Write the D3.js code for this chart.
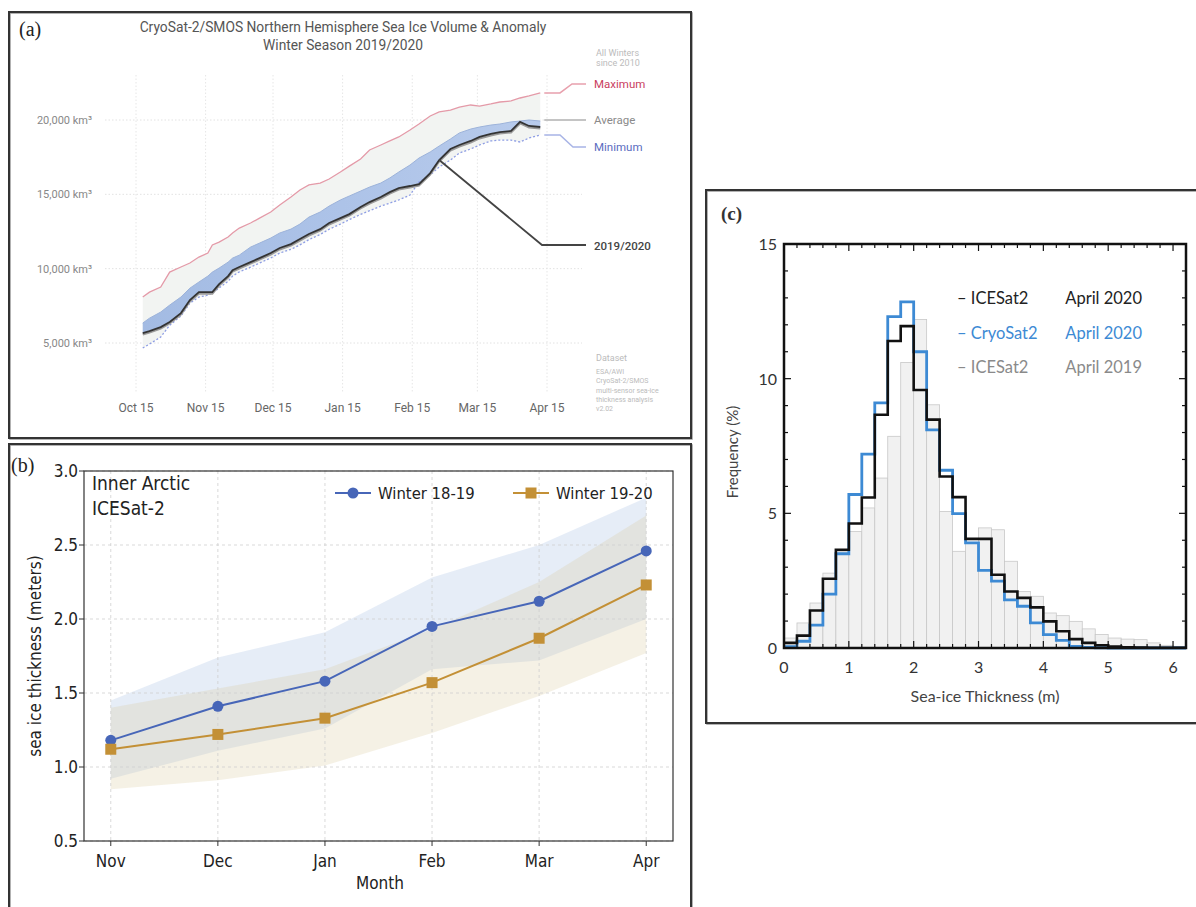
<!DOCTYPE html>
<html><head><meta charset="utf-8">
<script src="https://cdn.jsdelivr.net/npm/d3@7"></script>
<style>body{margin:0;background:#fff;} svg{display:block;}</style>
</head><body>
<svg id="c" width="1196" height="907"></svg>
<script>
// ================= Panel (a) data =================
const aDates = ["2019-10-18","2019-10-21","2019-10-26","2019-10-30","2019-11-04","2019-11-08","2019-11-12","2019-11-16","2019-11-18","2019-11-21","2019-11-25","2019-11-27","2019-11-30","2019-12-05","2019-12-09","2019-12-14","2019-12-18","2019-12-23","2019-12-27","2019-12-31","2020-01-05","2020-01-09","2020-01-14","2020-01-18","2020-01-23","2020-01-27","2020-02-01","2020-02-05","2020-02-09","2020-02-14","2020-02-18","2020-02-23","2020-02-27","2020-03-03","2020-03-07","2020-03-12","2020-03-16","2020-03-21","2020-03-25","2020-03-30","2020-04-03","2020-04-07","2020-04-12"];
const aMax = [8090,8420,8760,9770,10110,10380,10780,11050,11590,11790,12130,12400,12730,13070,13400,13810,14280,14820,15290,15630,15760,16030,16500,16900,17380,17980,18320,18590,18860,19330,19730,20270,20540,20670,20870,21010,20940,21080,21210,21280,21480,21620,21820];
const aAvg = [6340,6670,7080,7550,8090,8690,9100,9500,9770,10040,10440,10710,10910,11450,11720,12060,12400,12660,13000,13470,13810,14210,14620,14890,15220,15490,15760,16100,16500,16970,17440,17850,18250,18720,19130,19390,19530,19660,19730,19870,19930,20000,19930];
const aCur = [5670,5800,6070,6410,7010,7890,8420,8420,8420,8960,9500,9900,10110,10440,10710,11050,11390,11650,11990,12330,12660,13070,13400,13670,14150,14480,14820,15150,15420,15560,15690,16430,17310,18050,18320,18590,18860,19060,19190,19260,19870,19600,19530];
const aMin = [4660,4930,5400,6200,6810,7680,8090,8220,8360,8700,9150,9500,9780,10100,10380,10720,11050,11300,11600,11950,12300,12650,13000,13300,13650,13900,14210,14410,14620,14950,15830,16300,16840,17310,17780,18050,18320,18590,18650,18650,18520,18790,18990];
const aYTicks = [5000,10000,15000,20000];
const aXTicks = ["2019-10-15","2019-11-15","2019-12-15","2020-01-15","2020-02-15","2020-03-15","2020-04-15"];
const aXTickLabels = ["Oct 15","Nov 15","Dec 15","Jan 15","Feb 15","Mar 15","Apr 15"];
const aTitle = ["CryoSat-2/SMOS Northern Hemisphere Sea Ice Volume & Anomaly","Winter Season 2019/2020"];
const aLeaderDate = "2020-02-27";

// ================= Panel (b) data =================
const bMonths = ["Nov","Dec","Jan","Feb","Mar","Apr"];
const b1819 = [1.18,1.41,1.58,1.95,2.12,2.46];
const b1819Lo = [0.92,1.11,1.26,1.66,1.72,2.00];
const b1819Hi = [1.45,1.74,1.91,2.28,2.50,2.82];
const b1920 = [1.12,1.22,1.33,1.57,1.87,2.23];
const b1920Lo = [0.85,0.91,1.01,1.23,1.48,1.77];
const b1920Hi = [1.40,1.53,1.66,1.93,2.25,2.70];
const bYTicks = [0.5,1.0,1.5,2.0,2.5,3.0];
const bSeriesNames = ["Winter 18-19","Winter 19-20"];

// ================= Panel (c) data =================
const cBinWidth = 0.2;
const cIce2020 = [0.19,0.46,1.39,2.57,3.65,4.62,5.59,8.66,11.4,11.95,9.58,8.48,6.37,5.6,4.05,4.05,2.72,2.10,1.86,1.51,0.99,0.62,0.33,0.19,0.10,0.05,0.03,0.02,0.01,0.01,0.01];
const cCryo2020 = [0.05,0.25,0.85,2.0,3.5,5.7,7.2,9.1,12.3,12.85,11.0,8.1,6.6,4.99,3.9,2.88,2.48,1.79,1.55,0.93,0.50,0.28,0.06,0.02,0.01,0,0,0,0,0,0];
const cIce2019 = [0.37,0.93,1.67,2.78,3.59,4.33,5.2,6.31,7.86,10.6,12.2,9.03,5.07,3.59,3.9,4.46,4.39,3.22,2.10,1.92,1.30,1.20,0.99,0.71,0.50,0.37,0.33,0.31,0.19,0.10,0.06];
const cXTicks = [0,1,2,3,4,5,6];
const cYTicks = [0,5,10,15];
const cLegend = [["ICESat2","April 2020"],["CryoSat2","April 2020"],["ICESat2","April 2019"]];

// =================================================
const svg = d3.select("#c");
const parse = d3.timeParse("%Y-%m-%d");

// ---------- Frames ----------
function frame(x,y,w,h){
  svg.append("rect").attr("x",x+1).attr("y",y+1).attr("width",w).attr("height",h)
    .attr("fill","none").attr("stroke","#999").attr("stroke-width",1.5);
  svg.append("rect").attr("x",x).attr("y",y).attr("width",w).attr("height",h)
    .attr("fill","none").attr("stroke","#333").attr("stroke-width",2);
}
frame(9,12,682,426);
frame(9,444,682,480);
frame(706,190,500,533);

// =============== Panel (a) ===============
{
  const g = svg.append("g");
  const ax = d3.scaleTime().domain([parse("2019-10-15"), parse("2020-04-15")]).range([136,547]);
  const ay = d3.scaleLinear().domain([5000,20000]).range([343,120]);
  const font = "Roboto, 'Open Sans', sans-serif";
  const rows = aDates.map((d,i)=>({d:parse(d),max:aMax[i],avg:aAvg[i],cur:aCur[i],min:aMin[i]}));

  // grid
  g.selectAll(".hg").data(aYTicks).join("line")
    .attr("x1",105).attr("x2",582).attr("y1",d=>ay(d)).attr("y2",d=>ay(d))
    .attr("stroke","#e2e2e2").attr("stroke-dasharray","1.5,2");
  g.selectAll(".vg").data(aXTicks).join("line")
    .attr("x1",d=>ax(parse(d))).attr("x2",d=>ax(parse(d))).attr("y1",75).attr("y2",392)
    .attr("stroke","#e6e6e6").attr("stroke-dasharray","1.5,2");

  // range band
  g.append("path").datum(rows)
    .attr("d",d3.area().x(r=>ax(r.d)).y0(r=>ay(r.min)).y1(r=>ay(r.max)))
    .attr("fill","#f2f4f2");
  // anomaly band
  const grad = svg.append("defs").append("linearGradient").attr("id","blueg")
    .attr("x1","0").attr("y1","0").attr("x2","1").attr("y2","0");
  grad.append("stop").attr("offset","0").attr("stop-color","#a3bbe3");
  grad.append("stop").attr("offset","0.5").attr("stop-color","#adc3e8");
  grad.append("stop").attr("offset","1").attr("stop-color","#b8cbec");
  g.append("path").datum(rows)
    .attr("d",d3.area().x(r=>ax(r.d)).y0(r=>ay(r.cur)).y1(r=>ay(r.avg)))
    .attr("fill","url(#blueg)");
  // lines
  const ln = k => d3.line().x(r=>ax(r.d)).y(r=>ay(r[k]));
  g.append("path").datum(rows).attr("d",ln("avg")).attr("fill","none").attr("stroke","#9db3da").attr("stroke-width",1);
  g.append("path").datum(rows).attr("d",ln("max")).attr("fill","none").attr("stroke","#e49aa8").attr("stroke-width",1.3);
  g.append("path").datum(rows).attr("d",ln("min")).attr("fill","none").attr("stroke","#8d9de4").attr("stroke-width",1.3).attr("stroke-dasharray","2,2");
  g.append("path").datum(rows).attr("d",ln("cur")).attr("fill","none").attr("stroke","#9a9a9a").attr("stroke-width",2).attr("transform","translate(0,1.5)");
  g.append("path").datum(rows).attr("d",ln("cur")).attr("fill","none").attr("stroke","#333").attr("stroke-width",1.8);

  // y labels
  g.selectAll(".yl").data(aYTicks).join("text")
    .attr("x",92).attr("y",d=>ay(d)+4).attr("text-anchor","end")
    .attr("font-family",font).attr("font-size",11).attr("fill","#888")
    .text(d=>d3.format(",")(d)+" km³");
  // x labels
  g.selectAll(".xl").data(aXTicks).join("text")
    .attr("x",d=>ax(parse(d))).attr("y",412).attr("text-anchor","middle")
    .attr("font-family",font).attr("font-size",12).attr("fill","#666")
    .text((d,i)=>aXTickLabels[i]);
  // title
  g.selectAll(".tt").data(aTitle).join("text")
    .attr("x",343).attr("y",(d,i)=>32+i*18).attr("text-anchor","middle")
    .attr("font-family",font).attr("font-size",13.8).attr("fill","#555")
    .text(d=>d);
  g.append("text").attr("x",19).attr("y",36).attr("font-family","'Liberation Serif', serif")
    .attr("font-size",20).attr("fill","#222").text("(a)");

  // right legend
  const last = rows[rows.length-1];
  const xe = ax(last.d)+4;
  g.append("path").attr("d",`M${xe},${ay(last.max)}H560L572,84H586`).attr("fill","none").attr("stroke","#e8a0ad").attr("stroke-width",1.5);
  g.append("path").attr("d",`M${xe},${ay(20000)}H586`).attr("fill","none").attr("stroke","#c4c4c4").attr("stroke-width",2);
  g.append("path").attr("d",`M${xe},${ay(last.min)}H560L573,147H586`).attr("fill","none").attr("stroke","#a8b4e6").attr("stroke-width",1.5);
  const lr = rows[aDates.indexOf(aLeaderDate)];
  g.append("path").attr("d",`M${ax(lr.d)},${ay(lr.cur)}L542,245H586`).attr("fill","none").attr("stroke","#444").attr("stroke-width",1.8);
  const legA = [["Maximum",88,"#c9405e",400],["Average",124,"#8a8a8a",400],["Minimum",151,"#5a6cc0",400],["2019/2020",250,"#444",500]];
  g.selectAll(".la").data(legA).join("text")
    .attr("x",594).attr("y",d=>d[1]).attr("font-family",font).attr("font-size",11.5)
    .attr("fill",d=>d[2]).attr("font-weight",d=>d[3]).text(d=>d[0]);
  g.selectAll(".aw").data(["All Winters","since 2010"]).join("text")
    .attr("x",596).attr("y",(d,i)=>56+i*10).attr("font-family",font).attr("font-size",9).attr("fill","#bbb").text(d=>d);
  g.append("text").attr("x",596).attr("y",361).attr("font-family",font).attr("font-size",9).attr("fill","#bbb").text("Dataset");
  g.selectAll(".ds").data(["ESA/AWI","CryoSat-2/SMOS","multi-sensor sea-ice","thickness analysis","v2.02"]).join("text")
    .attr("x",596).attr("y",(d,i)=>374+i*9.3).attr("font-family",font).attr("font-size",7).attr("fill","#bbb").text(d=>d);
}

// =============== Panel (b) ===============
{
  const g = svg.append("g");
  const font = "'DejaVu Sans Condensed','DejaVu Sans',sans-serif";
  const bx = d3.scaleLinear().domain([-0.25,5.25]).range([84,673]);
  const by = d3.scaleLinear().domain([0.5,3.0]).range([841,471]);
  const idx = bMonths.map((m,i)=>i);
  const area = (lo,hi)=>d3.area().x(i=>bx(i)).y0(i=>by(lo[i])).y1(i=>by(hi[i]));
  g.append("path").datum(idx).attr("d",area(b1819Lo,b1819Hi)).attr("fill","rgb(195,212,236)").attr("fill-opacity",0.42);
  g.append("path").datum(idx).attr("d",area(b1920Lo,b1920Hi)).attr("fill","rgb(215,200,150)").attr("fill-opacity",0.25);
  // grid
  g.selectAll(".gx").data(idx).join("line").attr("x1",i=>bx(i)).attr("x2",i=>bx(i)).attr("y1",471).attr("y2",841)
    .attr("stroke","#cfcfcf").attr("stroke-width",0.8).attr("stroke-dasharray","3,3");
  g.selectAll(".gy").data(bYTicks).join("line").attr("x1",84).attr("x2",673).attr("y1",d=>by(d)).attr("y2",d=>by(d))
    .attr("stroke","#cfcfcf").attr("stroke-width",0.8).attr("stroke-dasharray","3,3");
  // lines
  const c1 = "#4766b8", c2 = "#c39036";
  const line = vals=>d3.line().x(i=>bx(i)).y(i=>by(vals[i]));
  g.append("path").datum(idx).attr("d",line(b1819)).attr("fill","none").attr("stroke",c1).attr("stroke-width",2);
  g.append("path").datum(idx).attr("d",line(b1920)).attr("fill","none").attr("stroke",c2).attr("stroke-width",2);
  g.selectAll(".m1").data(idx).join("circle").attr("cx",i=>bx(i)).attr("cy",i=>by(b1819[i])).attr("r",5.5).attr("fill",c1);
  g.selectAll(".m2").data(idx).join("rect").attr("x",i=>bx(i)-5.5).attr("y",i=>by(b1920[i])-5.5)
    .attr("width",11).attr("height",11).attr("fill",c2);
  // frame
  g.append("rect").attr("x",84).attr("y",471).attr("width",589).attr("height",370).attr("fill","none").attr("stroke","#333").attr("stroke-width",1.2);
  // ticks
  g.selectAll(".tx").data(idx).join("line").attr("x1",i=>bx(i)).attr("x2",i=>bx(i)).attr("y1",841).attr("y2",846).attr("stroke","#333");
  g.selectAll(".ty").data(bYTicks).join("line").attr("x1",79).attr("x2",84).attr("y1",d=>by(d)).attr("y2",d=>by(d)).attr("stroke","#333");
  g.selectAll(".lx").data(idx).join("text").attr("x",i=>bx(i)).attr("y",867).attr("text-anchor","middle")
    .attr("font-family",font).attr("font-size",17).attr("fill","#222").text(i=>bMonths[i]);
  g.selectAll(".ly").data(bYTicks).join("text").attr("x",78).attr("y",d=>by(d)+6).attr("text-anchor","end")
    .attr("font-family",font).attr("font-size",17).attr("fill","#222").text(d=>d.toFixed(1));
  g.append("text").attr("x",380).attr("y",889).attr("text-anchor","middle").attr("font-family",font).attr("font-size",17).attr("fill","#222").text("Month");
  g.append("text").attr("transform","translate(41,656) rotate(-90)").attr("text-anchor","middle").attr("font-family",font).attr("font-size",17).attr("fill","#222").text("sea ice thickness (meters)");
  g.append("text").attr("x",92).attr("y",490).attr("font-family",font).attr("font-size",19).attr("fill","#222").text("Inner Arctic");
  g.append("text").attr("x",92).attr("y",515).attr("font-family",font).attr("font-size",19).attr("fill","#222").text("ICESat-2");
  g.append("text").attr("x",11).attr("y",472).attr("font-family","'Liberation Serif', serif").attr("font-size",20).attr("fill","#222").text("(b)");
  // legend
  const legs = [[335,c1,"circle"],[513,c2,"square"]];
  legs.forEach((l,i)=>{
    g.append("line").attr("x1",l[0]).attr("x2",l[0]+36).attr("y1",493).attr("y2",493).attr("stroke",l[1]).attr("stroke-width",2);
    if(l[2]==="circle") g.append("circle").attr("cx",l[0]+18).attr("cy",493).attr("r",5.5).attr("fill",l[1]);
    else g.append("rect").attr("x",l[0]+12.5).attr("y",487.5).attr("width",11).attr("height",11).attr("fill",l[1]);
    g.append("text").attr("x",l[0]+43).attr("y",499).attr("font-family",font).attr("font-size",16.5).attr("fill","#222").text(bSeriesNames[i]);
  });
}

// =============== Panel (c) ===============
{
  const g = svg.append("g");
  const font = "Lato, 'Open Sans', sans-serif";
  const n = cIce2020.length;
  const cx = d3.scaleLinear().domain([0,n*cBinWidth]).range([784,1186]);
  const cy = d3.scaleLinear().domain([0,15]).range([648,244]);
  const bins = d3.range(n);
  // gray bars
  g.selectAll(".gb").data(bins).join("rect")
    .attr("x",i=>cx(i*cBinWidth)).attr("width",i=>cx((i+1)*cBinWidth)-cx(i*cBinWidth))
    .attr("y",i=>cy(cIce2019[i])).attr("height",i=>cy(0)-cy(cIce2019[i]))
    .attr("fill","#f1f1f1").attr("stroke","#c8c8c8").attr("stroke-width",0.8);
  const step = vals=>{
    const pts = vals.map((v,i)=>[i*cBinWidth,v]); pts.push([n*cBinWidth,vals[n-1]]);
    return d3.line().x(p=>cx(p[0])).y(p=>cy(p[1])).curve(d3.curveStepAfter)(pts);
  };
  g.append("path").attr("d",step(cCryo2020)).attr("fill","none").attr("stroke","#3d8ad4").attr("stroke-width",2.8);
  g.append("path").attr("d",step(cIce2020)).attr("fill","none").attr("stroke","#111").attr("stroke-width",2.6);
  // frame
  g.append("rect").attr("x",784).attr("y",244).attr("width",402).attr("height",404).attr("fill","none").attr("stroke","#111").attr("stroke-width",2.5);
  // ticks
  const xt = d3.range(0,n+1).map(i=>i*cBinWidth);
  xt.forEach(t=>{
    const major = Math.abs(t-Math.round(t))<1e-6;
    const L = major?7:4;
    g.append("line").attr("x1",cx(t)).attr("x2",cx(t)).attr("y1",648).attr("y2",648-L).attr("stroke","#111").attr("stroke-width",1.2);
    g.append("line").attr("x1",cx(t)).attr("x2",cx(t)).attr("y1",244).attr("y2",244+L).attr("stroke","#111").attr("stroke-width",1.2);
  });
  d3.range(0,16).forEach(t=>{
    const L = t%5===0?7:4;
    g.append("line").attr("x1",784).attr("x2",784+L).attr("y1",cy(t)).attr("y2",cy(t)).attr("stroke","#111").attr("stroke-width",1.2);
    g.append("line").attr("x1",1186).attr("x2",1186-L).attr("y1",cy(t)).attr("y2",cy(t)).attr("stroke","#111").attr("stroke-width",1.2);
  });
  g.selectAll(".cxl").data(cXTicks).join("text").attr("x",d=>cx(d)).attr("y",673).attr("text-anchor","middle")
    .attr("font-family",font).attr("font-size",16).attr("fill","#333").text(d=>d);
  g.selectAll(".cyl").data(cYTicks).join("text").attr("x",777).attr("y",d=>cy(d)+6).attr("text-anchor","end")
    .attr("font-family",font).attr("font-size",16).attr("fill","#333").text(d=>d);
  g.append("text").attr("x",985).attr("y",702).attr("text-anchor","middle").attr("font-family",font).attr("font-size",16).attr("fill","#444").text("Sea-ice Thickness (m)");
  g.append("text").attr("transform","translate(738,452) rotate(-90)").attr("text-anchor","middle").attr("font-family",font).attr("font-size",15).attr("fill","#444").text("Frequency (%)");
  g.append("text").attr("x",721).attr("y",220).attr("font-family","'Liberation Serif', serif").attr("font-size",19).attr("font-weight","bold").attr("fill","#333").text("(c)");
  const lcol = ["#222","#3d8ad4","#8a8a8a"];
  cLegend.forEach((l,i)=>{
    const y = 304 + i*34.5;
    g.append("text").attr("x",957).attr("y",y).attr("font-family",font).attr("font-size",16.5).attr("fill",lcol[i]).text("– "+l[0]);
    g.append("text").attr("x",1142).attr("y",y).attr("text-anchor","end").attr("font-family",font).attr("font-size",16.5).attr("fill",lcol[i]).text(l[1]);
  });
}
</script>
</body></html>
